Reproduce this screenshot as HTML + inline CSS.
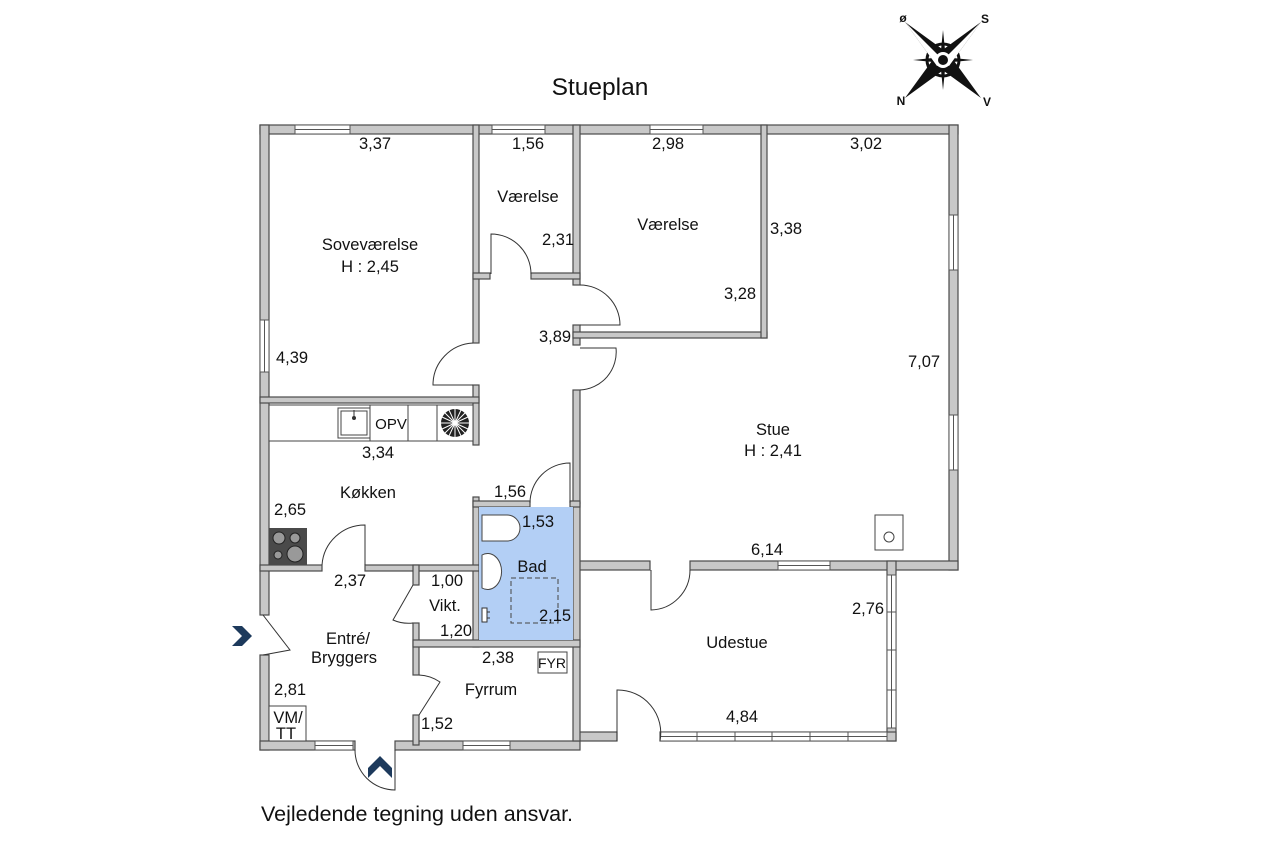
<!DOCTYPE html>
<html><head><meta charset="utf-8"><style>
html,body{margin:0;padding:0;background:#fff;}
svg{display:block}
text{font-family:"Liberation Sans",sans-serif;fill:#111;}
</style></head><body>
<svg width="1280" height="853" viewBox="0 0 1280 853" xmlns="http://www.w3.org/2000/svg">
<g fill="#c8c8c8" stroke="#4a4a4a" stroke-width="1.2">
<rect x="260" y="125" width="698" height="9"/>
<rect x="260" y="125" width="9" height="490"/>
<rect x="260" y="655" width="9" height="95"/>
<rect x="949" y="125" width="9" height="445"/>
<rect x="575" y="561" width="75" height="9"/>
<rect x="690" y="561" width="268" height="9"/>
<rect x="887" y="561" width="9" height="180"/>
<rect x="660" y="732" width="236" height="9"/>
<rect x="575" y="732" width="42" height="9"/>
<rect x="260" y="741" width="95" height="9"/>
<rect x="395" y="741" width="185" height="9"/>
<rect x="473" y="125" width="6" height="218"/>
<rect x="473" y="385" width="6" height="60"/>
<rect x="260" y="397" width="219" height="6"/>
<rect x="573" y="125" width="7" height="160"/>
<rect x="473" y="273" width="17" height="6"/>
<rect x="531" y="273" width="49" height="6"/>
<rect x="573" y="325" width="7" height="20"/>
<rect x="573" y="390" width="7" height="113"/>
<rect x="573" y="503" width="7" height="238"/>
<rect x="573" y="332" width="194" height="6"/>
<rect x="761" y="125" width="6" height="213"/>
<rect x="473" y="497" width="6" height="150"/>
<rect x="473" y="501" width="57" height="6"/>
<rect x="570" y="501" width="10" height="6"/>
<rect x="260" y="565" width="62" height="6"/>
<rect x="365" y="565" width="114" height="6"/>
<rect x="413" y="565" width="6" height="20"/>
<rect x="413" y="623" width="6" height="52"/>
<rect x="413" y="715" width="6" height="30"/>
<rect x="413" y="640" width="167" height="7"/>
</g>
<rect x="479" y="507" width="94" height="133" fill="#b3cff5"/>
<g fill="#fff" stroke="#555" stroke-width="1">
<rect x="295" y="125" width="55" height="9"/><line x1="295" y1="129.5" x2="350" y2="129.5"/>
<rect x="492" y="125" width="53" height="9"/><line x1="492" y1="129.5" x2="545" y2="129.5"/>
<rect x="650" y="125" width="53" height="9"/><line x1="650" y1="129.5" x2="703" y2="129.5"/>
<rect x="260" y="320" width="9" height="52"/><line x1="264.5" y1="320" x2="264.5" y2="372"/>
<rect x="949" y="215" width="9" height="55"/><line x1="953.5" y1="215" x2="953.5" y2="270"/>
<rect x="949" y="415" width="9" height="55"/><line x1="953.5" y1="415" x2="953.5" y2="470"/>
<rect x="778" y="561" width="52" height="9"/><line x1="778" y1="565.5" x2="830" y2="565.5"/>
<rect x="315" y="741" width="38" height="9"/><line x1="315" y1="745.5" x2="353" y2="745.5"/>
<rect x="463" y="741" width="47" height="9"/><line x1="463" y1="745.5" x2="510" y2="745.5"/>
<rect x="887" y="575" width="9" height="153"/><line x1="891.5" y1="575" x2="891.5" y2="728"/>
<rect x="660" y="732" width="227" height="9"/><line x1="660" y1="736.5" x2="887" y2="736.5"/>
</g>
<g stroke="#555" stroke-width="1">
<line x1="887" y1="612" x2="896" y2="612"/><line x1="887" y1="650" x2="896" y2="650"/><line x1="887" y1="690" x2="896" y2="690"/>
<line x1="697" y1="732" x2="697" y2="741"/><line x1="735" y1="732" x2="735" y2="741"/><line x1="772" y1="732" x2="772" y2="741"/><line x1="810" y1="732" x2="810" y2="741"/><line x1="848" y1="732" x2="848" y2="741"/>
</g>
<g fill="none" stroke="#333" stroke-width="1">
<path d="M491 274 V234 A40 40 0 0 1 531 274"/>
<path d="M580 325 H620 A40 40 0 0 0 580 285"/>
<path d="M580 348 H616 A38 38 0 0 1 580 390"/>
<path d="M473 385 H433 A42 42 0 0 1 473 343"/>
<path d="M570 503 V463 A40 40 0 0 0 530 503"/>
<path d="M365 565 V525 A43 43 0 0 0 322 565"/>
<path d="M413 585 L393 620 A38 38 0 0 0 413 623"/>
<path d="M419 715 L440 682 A40 40 0 0 0 419 675"/>
<path d="M651 570 V610 A40 40 0 0 0 690 570"/>
<path d="M617 741 V690 A43 43 0 0 1 660 741"/>
<path d="M395 750 V790 A40 40 0 0 1 355 750"/>
<path d="M263 615 L290 650 L263 655"/>
</g>
<path d="M232 626 L242 626 L252 636 L242 646 L232 646 L242 636 Z" fill="#1d3a5c"/>
<path d="M368 778 L368 768 L380 756 L392 768 L392 778 L380 766 Z" fill="#1d3a5c"/>
<g fill="#fff" stroke="#444" stroke-width="1">
<rect x="269" y="405" width="204" height="36"/>
<line x1="370" y1="405" x2="370" y2="441"/><line x1="408" y1="405" x2="408" y2="441"/><line x1="437" y1="405" x2="437" y2="441"/>
<rect x="338" y="408" width="32" height="30"/><rect x="341" y="411" width="26" height="24"/>
</g>
<circle cx="354" cy="418" r="2" fill="#333"/><line x1="354" y1="410" x2="354" y2="418" stroke="#333"/>
<circle cx="455" cy="423" r="14" fill="#222"/>
<g stroke="#fff" stroke-width="1">
<line x1="441" y1="423" x2="469" y2="423"/><line x1="455" y1="409" x2="455" y2="437"/><line x1="445" y1="413" x2="465" y2="433"/><line x1="465" y1="413" x2="445" y2="433"/>
<line x1="442" y1="417" x2="468" y2="429"/><line x1="442" y1="429" x2="468" y2="417"/><line x1="449" y1="410" x2="461" y2="436"/><line x1="461" y1="410" x2="449" y2="436"/>
</g>
<rect x="269" y="528" width="38" height="37" fill="#4a4a4a"/>
<g fill="#999" stroke="#222"><circle cx="279" cy="538" r="6"/><circle cx="295" cy="538" r="5"/><circle cx="278" cy="555" r="4"/><circle cx="295" cy="554" r="8"/></g>
<g fill="#fff" stroke="#444">
<rect x="269" y="706" width="37" height="35"/>
<rect x="538" y="652" width="29" height="21"/>
<rect x="875" y="515" width="28" height="35"/>
<circle cx="889" cy="537" r="5"/>
<path d="M482 515 H507 A13 13 0 0 1 507 541 H482 Z"/>
<path d="M482 555 A14 18 0 1 1 482 588 Z"/>
</g>
<rect x="511" y="578" width="47" height="45" fill="none" stroke="#444" stroke-dasharray="5,3"/>
<g fill="#fff" stroke="#333"><rect x="482" y="608" width="5" height="14"/><line x1="487" y1="612" x2="490" y2="612"/><line x1="487" y1="618" x2="490" y2="618"/></g>
<g font-size="16.5" text-anchor="middle">
<text x="600" y="95" font-size="24.5">Stueplan</text>
<text x="375" y="149">3,37</text>
<text x="528" y="149">1,56</text>
<text x="668" y="149">2,98</text>
<text x="866" y="149">3,02</text>
<text x="528" y="202">Værelse</text>
<text x="370" y="250">Soveværelse</text>
<text x="370" y="272">H : 2,45</text>
<text x="558" y="245">2,31</text>
<text x="668" y="230">Værelse</text>
<text x="786" y="234">3,38</text>
<text x="740" y="299">3,28</text>
<text x="555" y="342">3,89</text>
<text x="292" y="363">4,39</text>
<text x="924" y="367">7,07</text>
<text x="391" y="429" font-size="15">OPV</text>
<text x="773" y="435">Stue</text>
<text x="773" y="456">H : 2,41</text>
<text x="378" y="458">3,34</text>
<text x="368" y="498">Køkken</text>
<text x="510" y="497">1,56</text>
<text x="290" y="515">2,65</text>
<text x="538" y="527">1,53</text>
<text x="767" y="555">6,14</text>
<text x="532" y="572">Bad</text>
<text x="350" y="586">2,37</text>
<text x="447" y="586">1,00</text>
<text x="445" y="611">Vikt.</text>
<text x="555" y="621">2,15</text>
<text x="868" y="614">2,76</text>
<text x="456" y="636">1,20</text>
<text x="348" y="644">Entré/</text>
<text x="344" y="663">Bryggers</text>
<text x="737" y="648">Udestue</text>
<text x="498" y="663">2,38</text>
<text x="552" y="668" font-size="14">FYR</text>
<text x="290" y="695">2,81</text>
<text x="491" y="695">Fyrrum</text>
<text x="288" y="723">VM/</text>
<text x="286" y="739">TT</text>
<text x="437" y="729">1,52</text>
<text x="742" y="722">4,84</text>
</g>
<text x="261" y="821" font-size="21.5">Vejledende tegning uden ansvar.</text>
<g transform="translate(943,60)">
<circle r="16" fill="none" stroke="#111" stroke-width="3"/>
<path d="M0 -30 L3 0 L0 30 L-3 0 Z M-30 0 L0 3 L30 0 L0 -3 Z" fill="#111"/>
<path d="M-38 -38 L6 -6 L38 38 L-6 6 Z" fill="#111"/>
<path d="M38 -38 L6 6 L-38 38 L-6 -6 Z" fill="#111"/>
<path d="M-38 -38 L0 0 L-6 6 Z M38 -38 L0 0 L6 6 Z" fill="#fff"/>
<circle r="8" fill="#fff"/><circle r="5" fill="#111"/>
</g>
<g font-size="12" font-weight="bold" text-anchor="middle">
<text x="903" y="22">ø</text><text x="985" y="23">S</text>
<text x="901" y="105">N</text><text x="987" y="106">V</text>
</g>
</svg>
</body></html>
